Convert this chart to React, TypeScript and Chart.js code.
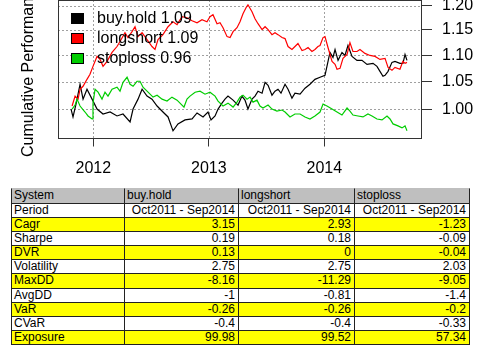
import React, { useEffect, useRef } from "react";
import { Chart, registerables } from "chart.js";

Chart.register(...registerables);

const FONT = '"Liberation Sans", Arial, Helvetica, sans-serif';

// ---- chart data (decimal years, cumulative performance) ----
const bhDates = [2011.807, 2011.824, 2011.850, 2011.885, 2011.911, 2011.945, 2011.989, 2012.032, 2012.084, 2012.145,
  2012.205, 2012.257, 2012.318, 2012.344, 2012.387, 2012.422, 2012.465, 2012.508, 2012.552, 2012.603,
  2012.647, 2012.690, 2012.733, 2012.794, 2012.855, 2012.898, 2012.950, 2012.993, 2013.019, 2013.054,
  2013.080, 2013.114, 2013.140, 2013.166, 2013.210, 2013.253, 2013.287, 2013.313, 2013.339, 2013.374,
  2013.400, 2013.426, 2013.461, 2013.487, 2013.513, 2013.547, 2013.573, 2013.599, 2013.625, 2013.660,
  2013.686, 2013.720, 2013.746, 2013.790, 2013.833, 2013.876, 2013.919, 2013.963, 2014.006, 2014.023,
  2014.049, 2014.075, 2014.093, 2014.119, 2014.153, 2014.179, 2014.205, 2014.240, 2014.283, 2014.326,
  2014.370, 2014.422, 2014.456, 2014.482, 2014.508, 2014.526, 2014.552, 2014.586, 2014.612, 2014.655,
  2014.681, 2014.699, 2014.716];
const bhValues = [1.0005, 0.9867, 1.0093, 1.0451, 1.0181, 1.0360, 1.0181, 1.0005, 0.9918, 0.9953,
  0.9884, 0.9918, 0.9781, 1.0005, 1.0181, 1.0360, 1.0235, 1.0181, 1.0058, 0.9953,
  0.9867, 0.9629, 0.9747, 0.9815, 0.9832, 0.9936, 0.9867, 0.9953, 0.9815, 0.9884,
  1.0005, 1.0110, 1.0181, 1.0235, 1.0163, 1.0075, 1.0235, 1.0163, 1.0005, 1.0181,
  1.0235, 1.0324, 1.0288, 1.0487, 1.0433, 1.0252, 1.0324, 1.0360, 1.0288, 1.0451,
  1.0360, 1.0199, 1.0288, 1.0270, 1.0378, 1.0451, 1.0542, 1.0580, 1.0617, 1.0785,
  1.1052, 1.0956, 1.1110, 1.0899, 1.1052, 1.0994, 1.1188, 1.0975, 1.0899, 1.0899,
  1.0823, 1.0842, 1.0785, 1.0691, 1.0598, 1.0617, 1.0691, 1.0861, 1.0880, 1.0842,
  1.0842, 1.1013, 1.0899];

const lsDates = [2011.816, 2011.842, 2011.868, 2011.885, 2011.911, 2011.945, 2011.971, 2011.997, 2012.032, 2012.058,
  2012.084, 2012.119, 2012.162, 2012.205, 2012.231, 2012.274, 2012.300, 2012.335, 2012.361, 2012.387,
  2012.422, 2012.465, 2012.508, 2012.534, 2012.560, 2012.603, 2012.647, 2012.690, 2012.725, 2012.768,
  2012.811, 2012.855, 2012.898, 2012.941, 2012.984, 2013.010, 2013.036, 2013.071, 2013.097, 2013.123,
  2013.158, 2013.184, 2013.210, 2013.244, 2013.270, 2013.296, 2013.322, 2013.339, 2013.374, 2013.400,
  2013.426, 2013.461, 2013.487, 2013.513, 2013.547, 2013.573, 2013.599, 2013.634, 2013.660, 2013.686,
  2013.720, 2013.746, 2013.772, 2013.807, 2013.833, 2013.859, 2013.893, 2013.919, 2013.945, 2013.963,
  2013.989, 2014.006, 2014.032, 2014.067, 2014.093, 2014.110, 2014.136, 2014.162, 2014.197, 2014.222,
  2014.248, 2014.283, 2014.309, 2014.352, 2014.396, 2014.439, 2014.482, 2014.526, 2014.552, 2014.586,
  2014.612, 2014.655, 2014.681, 2014.699, 2014.716];
const lsValues = [1.0058, 1.0235, 1.0181, 1.0360, 1.0414, 1.0542, 1.0635, 1.0785, 1.0975, 1.0918,
  1.0785, 1.0880, 1.1052, 1.1168, 1.1266, 1.1444, 1.1345, 1.1464, 1.1564, 1.1364,
  1.1444, 1.1305, 1.1168, 1.1110, 1.1305, 1.1404, 1.1564, 1.1666, 1.1605, 1.1768,
  1.1748, 1.1686, 1.1645, 1.1707, 1.1666, 1.1768, 1.1810, 1.1625, 1.1645, 1.1544,
  1.1364, 1.1345, 1.1464, 1.1544, 1.1666, 1.1830, 1.1955, 1.2018, 1.1872, 1.1727,
  1.1625, 1.1504, 1.1564, 1.1504, 1.1404, 1.1444, 1.1404, 1.1345, 1.1325, 1.1168,
  1.1110, 1.1168, 1.1227, 1.1091, 1.1110, 1.1149, 1.1071, 1.1110, 1.1168, 1.1188,
  1.1345, 1.1364, 1.1149, 1.0880, 1.0823, 1.0729, 1.0747, 1.0937, 1.1013, 1.1246,
  1.1071, 1.1071, 1.1110, 1.1033, 1.0994, 1.0975, 1.0918, 1.0937, 1.0766, 1.0710,
  1.0766, 1.0729, 1.0880, 1.0842, 1.0861];

const slDates = [2011.816, 2011.842, 2011.859, 2011.885, 2011.928, 2011.954, 2011.989, 2011.997, 2012.015, 2012.041,
  2012.075, 2012.101, 2012.127, 2012.162, 2012.205, 2012.231, 2012.257, 2012.292, 2012.318, 2012.344,
  2012.378, 2012.404, 2012.430, 2012.474, 2012.517, 2012.552, 2012.595, 2012.638, 2012.681, 2012.725,
  2012.759, 2012.785, 2012.811, 2012.837, 2012.881, 2012.924, 2012.967, 2013.010, 2013.054, 2013.080,
  2013.123, 2013.166, 2013.210, 2013.244, 2013.270, 2013.296, 2013.331, 2013.357, 2013.383, 2013.417,
  2013.443, 2013.469, 2013.513, 2013.547, 2013.590, 2013.634, 2013.660, 2013.703, 2013.746, 2013.790,
  2013.833, 2013.876, 2013.919, 2013.963, 2013.989, 2014.023, 2014.067, 2014.110, 2014.153, 2014.197,
  2014.222, 2014.248, 2014.292, 2014.335, 2014.378, 2014.413, 2014.456, 2014.500, 2014.543, 2014.569,
  2014.595, 2014.638, 2014.673, 2014.699, 2014.716];
const slValues = [1.0005, 1.0075, 1.0181, 1.0058, 0.9953, 0.9884, 0.9832, 1.0110, 1.0360, 1.0306,
  1.0181, 1.0306, 1.0235, 1.0360, 1.0396, 1.0324, 1.0487, 1.0580, 1.0451, 1.0414,
  1.0506, 1.0506, 1.0396, 1.0306, 1.0217, 1.0252, 1.0181, 1.0146, 1.0217, 1.0163,
  1.0093, 1.0040, 1.0181, 1.0235, 1.0306, 1.0324, 1.0270, 1.0306, 1.0235, 1.0146,
  1.0058, 1.0110, 1.0040, 1.0128, 1.0217, 1.0252, 1.0181, 1.0217, 1.0128, 1.0163,
  1.0058, 1.0023, 1.0075, 1.0005, 0.9970, 0.9988, 0.9953, 0.9867, 0.9918, 0.9918,
  0.9867, 0.9832, 0.9884, 0.9953, 1.0093, 1.0058, 1.0005, 0.9953, 0.9901, 1.0023,
  0.9970, 0.9901, 0.9884, 0.9867, 0.9918, 0.9884, 0.9832, 0.9815, 0.9884, 0.9832,
  0.9747, 0.9713, 0.9679, 0.9713, 0.9629];

const seriesNames = ["buy.hold", "longshort", "stoploss"];
const seriesColors = ["#000000", "#ff0000", "#00cd00"];
const xTicks = [2012, 2013, 2014];
const yTicks = [1.0, 1.05, 1.1, 1.15, 1.2];
const xRange = [2011.694, 2014.846];
const yRange = [0.952, 1.212];
const yAxisTitle = "Cumulative Performance";

// ---- table data ----
const tableHeader = ["System", "buy.hold", "longshort", "stoploss"];
const metricNames = ["Period", "Cagr", "Sharpe", "DVR", "Volatility", "MaxDD", "AvgDD", "VaR", "CVaR", "Exposure"];
const buyHoldStats = ["Oct2011 - Sep2014", "3.15", "0.19", "0.13", "2.75", "-8.16", "-1", "-0.26", "-0.4", "99.98"];
const longShortStats = ["Oct2011 - Sep2014", "2.93", "0.18", "0", "2.75", "-11.29", "-0.81", "-0.26", "-0.4", "99.52"];
const stopLossStats = ["Oct2011 - Sep2014", "-1.23", "-0.09", "-0.04", "2.03", "-9.05", "-1.4", "-0.2", "-0.33", "57.34"];

const CANVAS_TOP = -20;

const overlayPlugin = {
  id: "overlay",
  beforeDatasetsDraw(chart: any) {
    const ctx = chart.ctx as CanvasRenderingContext2D;
    const a = chart.chartArea;
    const xs = chart.scales.x;
    const ys = chart.scales.y;
    ctx.save();
    ctx.strokeStyle = "#a0a0a0";
    ctx.lineWidth = 1;
    ctx.setLineDash([2, 2]);
    for (const v of xTicks) {
      const px = Math.round(xs.getPixelForValue(v)) + 0.5;
      ctx.beginPath();
      ctx.moveTo(px, a.top);
      ctx.lineTo(px, a.bottom);
      ctx.stroke();
    }
    for (const v of yTicks) {
      const py = Math.round(ys.getPixelForValue(v)) + 0.5;
      ctx.beginPath();
      ctx.moveTo(a.left, py);
      ctx.lineTo(a.right, py);
      ctx.stroke();
    }
    ctx.restore();
  },
  afterDraw(chart: any) {
    const ctx = chart.ctx as CanvasRenderingContext2D;
    const a = chart.chartArea;
    const off = -CANVAS_TOP;
    ctx.save();
    // plot frame
    ctx.strokeStyle = "#333";
    ctx.lineWidth = 1;
    ctx.setLineDash([]);
    const l = Math.round(a.left) + 0.5, t = Math.round(a.top) + 0.5;
    const r = Math.round(a.right) - 0.5, b = Math.floor(a.bottom) + 0.5;
    ctx.strokeRect(l, t, r - l, b - t);
    // legend
    ctx.font = `16px ${FONT}`;
    ctx.textBaseline = "middle";
    ctx.textAlign = "left";
    chart.data.datasets.forEach((ds: any, i: number) => {
      const by = 13.5 + off + i * 20;
      ctx.fillStyle = ds.borderColor;
      ctx.fillRect(71.5, by, 12, 10);
      ctx.strokeStyle = "#000";
      ctx.strokeRect(71.5, by, 12, 10);
      const last = ds.data[ds.data.length - 1].y;
      ctx.fillStyle = "#000";
      ctx.fillText(`${ds.label} ${last.toFixed(2)}`, 97, by + 5.5);
    });
    // y axis title
    ctx.translate(29, 157 + off);
    ctx.rotate(-Math.PI / 2);
    ctx.fillStyle = "#000";
    ctx.fillText(yAxisTitle, 0, 0);
    ctx.restore();
  },
};

function StatsTable() {
  const cols = [11, 124, 238, 354, 469];
  const top = 188.4;
  const rh = 14.17;
  const columns = [metricNames, buyHoldStats, longShortStats, stopLossStats];
  const cells: any[] = [];
  const nRows = metricNames.length + 1;
  for (let r = 0; r < nRows; r++) {
    for (let c = 0; c < 4; c++) {
      const text = r === 0 ? tableHeader[c] : columns[c][r - 1];
      const bg = r === 0 ? "#bfbfbf" : r % 2 === 0 ? "#ffff00" : "#ffffff";
      const y0 = Math.round(top + r * rh);
      const y1 = Math.round(top + (r + 1) * rh);
      cells.push(
        <div
          key={`${r}-${c}`}
          style={{
            position: "absolute",
            left: cols[c],
            top: y0,
            width: cols[c + 1] - cols[c] + 1,
            height: y1 - y0 + 1,
            boxSizing: "border-box",
            background: bg,
            border: "1px solid #222",
            borderTop: r === 0 ? "1px solid #bfbfbf" : "1px solid #222",
            font: `12px ${FONT}`,
            lineHeight: `${y1 - y0 - 2}px`,
            color: "#000",
            textAlign: r === 0 || c === 0 ? "left" : "right",
            paddingLeft: 2,
            paddingRight: 3,
            whiteSpace: "nowrap",
            overflow: "hidden",
          }}
        >
          {text}
        </div>
      );
    }
  }
  return <>{cells}</>;
}

export default function App() {
  const ref = useRef<HTMLCanvasElement>(null);
  useEffect(() => {
    if (!ref.current) return;
    const toPts = (d: number[], v: number[]) => d.map((x, i) => ({ x, y: v[i] }));
    const all = [toPts(bhDates, bhValues), toPts(lsDates, lsValues), toPts(slDates, slValues)];
    const chart = new Chart(ref.current, {
      type: "line",
      data: {
        datasets: all.map((pts, i) => ({
          label: seriesNames[i],
          data: pts,
          borderColor: seriesColors[i],
          backgroundColor: seriesColors[i],
          borderWidth: 1.2,
          pointRadius: 0,
          tension: 0,
          fill: false,
          order: 2 - i,
        })),
      },
      options: {
        animation: false,
        responsive: false,
        maintainAspectRatio: false,
        layout: { padding: { left: 58, top: -CANVAS_TOP, right: 0, bottom: 0 } },
        plugins: { legend: { display: false }, tooltip: { enabled: false } },
        scales: {
          x: {
            type: "linear",
            min: xRange[0],
            max: xRange[1],
            afterBuildTicks: (s: any) => {
              s.ticks = xTicks.map((v) => ({ value: v }));
            },
            afterFit: (s: any) => {
              s.height = 41.5;
            },
            ticks: {
              callback: (v: any) => String(v),
              font: { size: 16, family: FONT },
              color: "#000",
              padding: 12,
              maxRotation: 0,
              autoSkip: false,
            },
            grid: { drawOnChartArea: false, color: "#333", lineWidth: 1, tickColor: "#333", tickLength: 8 },
            border: { display: false },
          },
          y: {
            type: "logarithmic",
            position: "right",
            min: yRange[0],
            max: yRange[1],
            afterBuildTicks: (s: any) => {
              s.ticks = yTicks.map((v) => ({ value: v }));
            },
            afterFit: (s: any) => {
              s.width = 57;
            },
            ticks: {
              callback: (v: any) => Number(v).toFixed(2),
              font: { size: 16, family: FONT },
              color: "#000",
              padding: 10,
              autoSkip: false,
            },
            grid: { drawOnChartArea: false, color: "#333", lineWidth: 1, tickColor: "#333", tickLength: 10 },
            border: { display: false },
          },
        },
      } as any,
      plugins: [overlayPlugin],
    });
    return () => chart.destroy();
  }, []);

  return (
    <div style={{ position: "fixed", left: 0, top: 0, width: 479, height: 355, background: "#fff", overflow: "hidden" }}>
      <canvas
        ref={ref}
        width={479}
        height={200}
        style={{ position: "absolute", left: 0, top: CANVAS_TOP, width: 479, height: 200 }}
      />
      <StatsTable />
    </div>
  );
}
